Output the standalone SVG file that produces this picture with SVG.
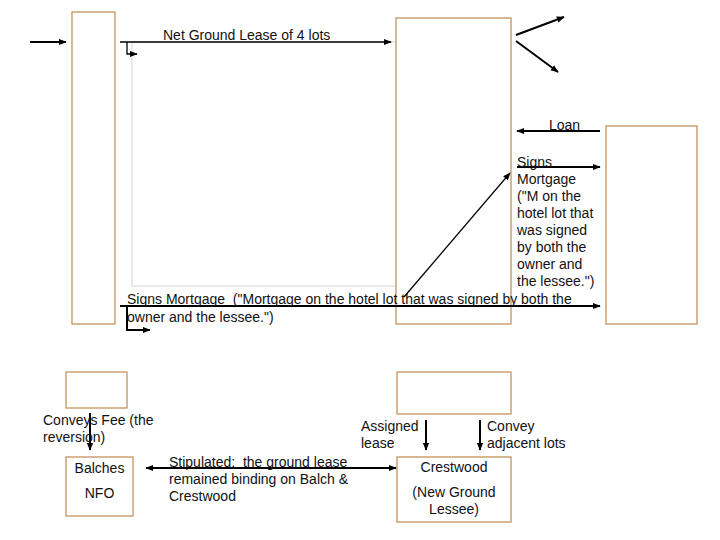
<svg xmlns="http://www.w3.org/2000/svg" width="720" height="540" viewBox="0 0 720 540">
<defs>
<marker id="ah" viewBox="0 0 10 10" refX="9" refY="5" markerWidth="4" markerHeight="4" orient="auto-start-reverse" markerUnits="strokeWidth">
<path d="M0,1 L10,5 L0,9 z" fill="#000"/>
</marker>
<marker id="ahs" viewBox="0 0 10 10" refX="9" refY="5" markerWidth="6" markerHeight="6" orient="auto-start-reverse" markerUnits="strokeWidth">
<path d="M0,1 L10,5 L0,9 z" fill="#000"/>
</marker>
</defs>
<style>
.box{fill:#fff;stroke:#c4935c;stroke-width:1.3}
.ghost{fill:none;stroke:#dcdcdc;stroke-width:1.2}
.c{fill:none;stroke:#000;stroke-width:2}
.t{fill:none;stroke:#000;stroke-width:1.3}
text{font-family:"Liberation Sans",Arial,sans-serif;font-size:14px;fill:#111;white-space:pre}
.m{text-anchor:middle}
</style>
<rect width="720" height="540" fill="#fff"/>
<rect class="ghost" x="132" y="42" width="270" height="244"/>
<g id="node-left"><rect class="box" x="72" y="12" width="43" height="312"/></g>
<g id="node-middle"><rect class="box" x="396" y="18" width="115" height="306"/></g>
<g id="node-right"><rect class="box" x="606" y="126" width="91" height="198"/></g>
<g id="node-small-left"><rect class="box" x="66" y="372" width="61" height="36"/></g>
<g id="node-balches"><rect class="box" x="66" y="457" width="67" height="59"/>
<text class="m" x="99.5" y="473">Balches</text><text class="m" x="99.5" y="498">NFO</text></g>
<g id="node-small-mid"><rect class="box" x="397" y="372" width="114" height="42"/></g>
<g id="node-crestwood"><rect class="box" x="397" y="457" width="114" height="65"/>
<text class="m" x="454" y="472">Crestwood</text><text class="m" x="454" y="497">(New Ground</text><text class="m" x="454" y="514">Lessee)</text></g>
<g id="connectors">
<line class="c" x1="30" y1="42" x2="66" y2="42" marker-end="url(#ah)"/>
<line class="t" x1="120" y1="42" x2="391" y2="42" marker-end="url(#ahs)"/>
<polyline class="t" points="127,42 127,54 137,54" marker-end="url(#ahs)"/>
<line class="c" x1="516" y1="35" x2="564" y2="17" marker-end="url(#ah)"/>
<line class="c" x1="516" y1="41" x2="558" y2="72" marker-end="url(#ah)"/>
<line class="c" x1="600" y1="131" x2="517" y2="131" marker-end="url(#ah)"/>
<line class="c" x1="517" y1="167" x2="600" y2="167" marker-end="url(#ah)"/>
<line class="c" x1="120" y1="306" x2="600" y2="306" marker-end="url(#ah)"/>
<polyline class="c" points="127,306 127,330 150,330" marker-end="url(#ah)"/>
<line class="t" x1="404" y1="297" x2="510" y2="173" marker-end="url(#ahs)"/>
<line class="c" x1="90" y1="413" x2="90" y2="450" marker-end="url(#ah)"/>
<line class="c" x1="146" y1="468" x2="396" y2="468" marker-start="url(#ah)" marker-end="url(#ah)"/>
<line class="c" x1="426" y1="420" x2="426" y2="450" marker-end="url(#ah)"/>
<line class="c" x1="480" y1="420" x2="480" y2="450" marker-end="url(#ah)"/>
</g>
<g id="labels">
<text x="163" y="40">Net Ground Lease of 4 lots</text>
<text x="549" y="130">Loan</text>
<text x="517" y="167">Signs</text>
<text x="517" y="184">Mortgage</text>
<text x="517" y="201">("M on the</text>
<text x="517" y="218">hotel lot that</text>
<text x="517" y="235">was signed</text>
<text x="517" y="252">by both the</text>
<text x="517" y="269">owner and</text>
<text x="517" y="286">the lessee.")</text>
<text x="127" y="304" xml:space="preserve">Signs Mortgage  ("Mortgage on the hotel lot that was signed by both the</text>
<text x="127" y="322">owner and the lessee.")</text>
<text x="43" y="425">Conveys Fee (the</text>
<text x="43" y="442">reversion)</text>
<text x="169" y="467" xml:space="preserve">Stipulated:  the ground lease</text>
<text x="169" y="484">remained binding on Balch &amp;</text>
<text x="169" y="501">Crestwood</text>
<text x="361" y="431">Assigned</text>
<text x="361" y="448">lease</text>
<text x="487" y="431">Convey</text>
<text x="487" y="448">adjacent lots</text>
</g>
</svg>
